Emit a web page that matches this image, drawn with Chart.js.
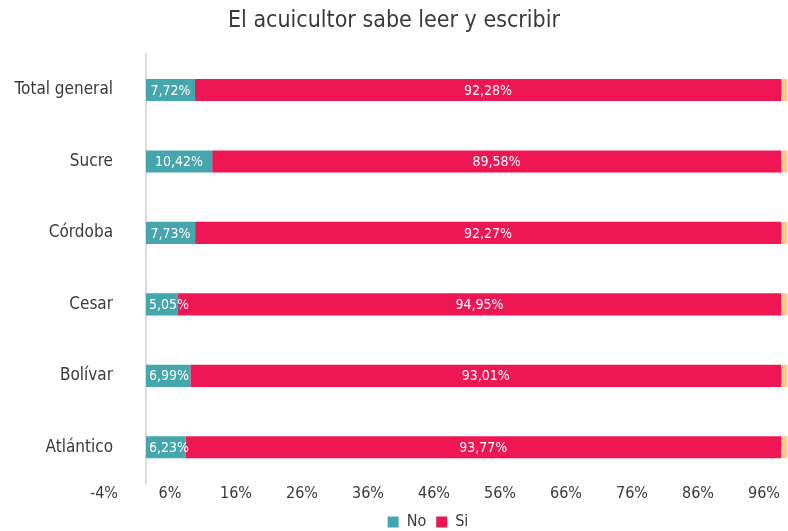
<!DOCTYPE html>
<html>
<head>
<meta charset="utf-8">
<script src="https://cdn.jsdelivr.net/npm/chart.js@4/dist/chart.umd.min.js"></script>
<style>
  html, body { margin: 0; padding: 0; background: #ffffff; }
  #wrap { width: 788px; height: 531px; position: relative; }
</style>
</head>
<body>
<div id="wrap"><canvas id="c" width="788" height="531"></canvas></div>
<script>
const TITLE = 'El acuicultor sabe leer y escribir';
const CATEGORIES = ['Total general', 'Sucre', 'Córdoba', 'Cesar', 'Bolívar', 'Atlántico'];
const NO_VALUES = [7.72, 10.42, 7.73, 5.05, 6.99, 6.23];
const SI_VALUES = [92.28, 89.58, 92.27, 94.95, 93.01, 93.77];
const EDGE_VALUES = [1, 1, 1, 1, 1, 1];
const TICK_VALUES = [-4, 6, 16, 26, 36, 46, 56, 66, 76, 86, 96];
const TICK_LABELS = ['-4%', '6%', '16%', '26%', '36%', '46%', '56%', '66%', '76%', '86%', '96%'];

const FONT = "'Liberation Sans Narrow', 'DejaVu Sans Condensed', sans-serif";
const TEXT = '#3a3a3a';

const fmt = v => v.toFixed(2).replace('.', ',') + '%';

const labelPlugin = {
  id: 'segLabels',
  afterDatasetsDraw(chart) {
    const ctx = chart.ctx;
    ctx.save();
    ctx.font = '14px ' + FONT;
    ctx.fillStyle = '#ffffff';
    ctx.textBaseline = 'middle';
    ctx.textAlign = 'center';
    [0, 1].forEach(di => {
      const meta = chart.getDatasetMeta(di);
      const vals = chart.data.datasets[di].data;
      meta.data.forEach((el, i) => {
        const p = el.getProps(['x', 'y', 'base'], true);
        const txt = fmt(vals[i]);
        const w = ctx.measureText(txt).width;
        let cx = (p.x + p.base) / 2;
        if (di === 0) cx = Math.max(cx, p.base + 3 + w / 2);
        ctx.fillText(txt, cx, p.y + 1);
      });
    });
    ctx.restore();
  }
};

// shift the legend block to the right, as in the reference
const legendShift = {
  id: 'legendShift',
  afterLayout(chart) {
    const lg = chart.legend;
    if (lg) { lg.left += 34; lg.right += 34; }
  }
};

new Chart(document.getElementById('c'), {
  type: 'bar',
  data: {
    labels: CATEGORIES,
    datasets: [
      { label: 'No', data: NO_VALUES, backgroundColor: '#46A6AE', xAxisID: 'x' },
      { label: 'Si', data: SI_VALUES, backgroundColor: '#EF1753', xAxisID: 'x' },
      { label: 'NS', data: EDGE_VALUES, backgroundColor: '#F8C88A', xAxisID: 'x' }
    ]
  },
  options: {
    indexAxis: 'y',
    responsive: false,
    animation: false,
    devicePixelRatio: 1,
    barPercentage: 0.31,
    categoryPercentage: 1,
    layout: { padding: { top: 0, right: 0, bottom: -9, left: 0 } },
    scales: {
      x: {
        display: false,
        stacked: true,
        min: 0,
        max: 101.1
      },
      xt: {
        type: 'linear',
        position: 'bottom',
        min: 2.364,
        max: 99.636,
        grid: { display: false, drawTicks: false },
        border: { display: false },
        afterBuildTicks: s => { s.ticks = TICK_VALUES.map(v => ({ value: v })); },
        afterFit: s => { s.height = 21; },
        ticks: {
          autoSkip: false,
          maxRotation: 0,
          padding: 1,
          color: TEXT,
          font: { family: FONT, size: 16 },
          callback: (v) => TICK_LABELS[TICK_VALUES.indexOf(v)]
        }
      },
      y: {
        stacked: true,
        grid: { display: false, drawTicks: false },
        border: { display: true, color: '#dcdcdc', width: 2 },
        afterFit: s => { s.width = 146; },
        ticks: {
          padding: 33,
          color: TEXT,
          font: { family: FONT, size: 17 }
        }
      }
    },
    plugins: {
      title: {
        display: true,
        text: TITLE,
        color: TEXT,
        font: { family: FONT, size: 23, weight: 'normal', lineHeight: 1.1 },
        padding: { top: 8, bottom: 21 }
      },
      legend: {
        position: 'bottom',
        labels: {
          filter: item => item.text !== 'NS',
          boxWidth: 11,
          boxHeight: 11,
          color: TEXT,
          padding: 10,
          font: { family: FONT, size: 16 }
        }
      },
      tooltip: { enabled: false }
    }
  },
  plugins: [labelPlugin, legendShift]
});
</script>
</body>
</html>
